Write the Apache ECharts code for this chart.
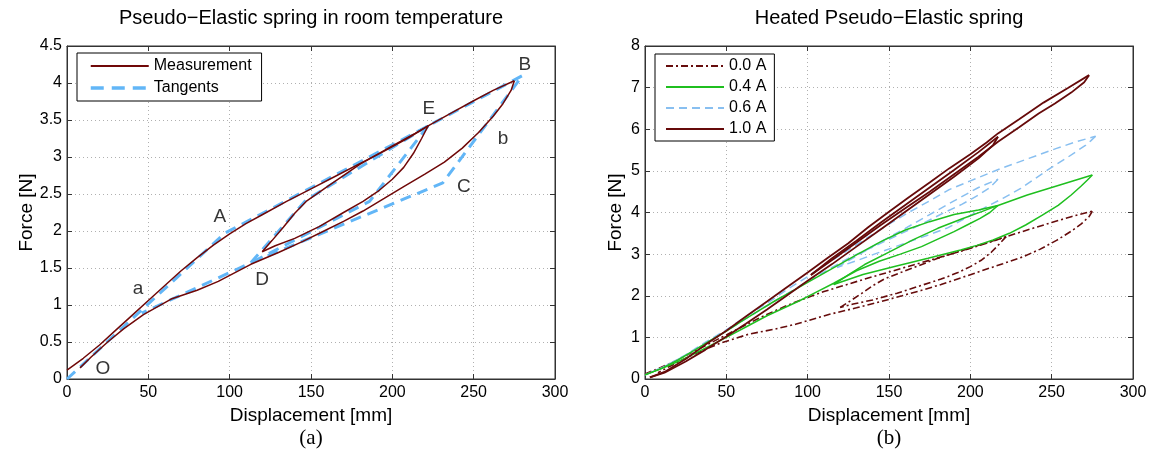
<!DOCTYPE html>
<html>
<head>
<meta charset="utf-8">
<script src="https://cdn.jsdelivr.net/npm/echarts@6/dist/echarts.min.js"></script>
<style>
html,body{margin:0;padding:0;background:#fff;}
#c{width:1164px;height:460px;}
</style>
</head>
<body>
<div id="c"></div>
<script>
// ---------- axis ticks ----------
const xTicks = [0, 50, 100, 150, 200, 250, 300];
const yTicksLeft = [0, 0.5, 1, 1.5, 2, 2.5, 3, 3.5, 4, 4.5];
const yTicksRight = [0, 1, 2, 3, 4, 5, 6, 7, 8];

// ---------- (a) measurement (room temperature) ----------
const measLoad = [[0,0.12],[10,0.28],[20,0.46],[30,0.66],[40,0.86],[50,1.06],[60,1.26],[70,1.46],[80,1.64],[90,1.81],[100,1.96],[110,2.1],[120,2.22],[135,2.4],[150,2.57],[165,2.74],[180,2.91],[195,3.08],[210,3.26],[222,3.42],[235,3.58],[250,3.76],[262,3.9],[275,4.03]];
const measUnloadMain = [[275,4.03],[273,3.9],[268,3.72],[262,3.55],[253,3.33],[243,3.12],[232,2.93],[220,2.77],[207,2.6],[195,2.44],[182,2.27],[170,2.13],[158,2.0],[145,1.86],[130,1.71],[113,1.55],[93,1.32],[80,1.2],[64,1.08],[47,0.87],[35,0.68],[25,0.5],[15,0.3],[8,0.15]];
const measUnloadInner = [[222,3.42],[218,3.25],[213,3.05],[207,2.86],[200,2.7],[192,2.55],[182,2.4],[170,2.25],[155,2.06],[140,1.9],[128,1.8],[120,1.72]];
const measReload = [[120,1.72],[126,1.87],[133,2.05],[140,2.24],[147,2.4],[160,2.6],[180,2.9],[200,3.15],[214,3.32],[222,3.42]];

// tangents
const tanMain = [[0,0],[97,1.97],[222,3.42],[280,4.1],[231,2.65],[113,1.57],[46,0.89]];
const tanInnerUp = [[113,1.57],[147,2.42],[222,3.42]];
const tanInnerDown = [[222,3.42],[186,2.4],[113,1.57]];

// point labels
const pointLabels = [['O',22,0.14],['a',43.6,1.22],['A',94,2.19],['D',120,1.34],['E',222.5,3.65],['B',281.5,4.25],['b',268,3.24],['C',244,2.6]];

// ---------- (b) heated spring ----------
const load04 = [[0,0.1],[10,0.25],[20,0.45],[30,0.68],[40,0.92],[50,1.15],[60,1.4],[70,1.64],[80,1.88],[90,2.1],[100,2.32],[115,2.65],[130,2.98],[145,3.3],[160,3.58],[175,3.78],[190,3.95],[205,4.06],[217,4.17],[235,4.42],[255,4.66],[275,4.9]];
const unloadMain04 = [[275,4.9],[272,4.78],[268,4.63],[262,4.42],[254,4.17],[244,3.93],[234,3.7],[224,3.5],[214,3.34],[204,3.21],[194,3.1],[174,2.9],[154,2.71],[134,2.51],[116,2.27]];
const reload04 = [[116,2.27],[125,2.5],[135,2.75],[150,3.05],[165,3.35],[180,3.62],[195,3.85],[207,4.02],[217,4.17]];
const unloadInner04 = [[217,4.17],[212,4.0],[206,3.86],[198,3.7],[190,3.54],[180,3.36],[170,3.18],[157,3.0],[144,2.83],[130,2.6],[116,2.3],[105,2.08],[95,1.88],[85,1.7],[75,1.52],[62,1.25],[50,1.0],[38,0.76],[25,0.5],[12,0.28],[0,0.1]];

const load06 = [[0,0.1],[12,0.3],[25,0.58],[37,0.88],[50,1.18],[62,1.5],[75,1.82],[87,2.14],[100,2.46],[112,2.78],[125,3.1],[137,3.4],[150,3.72],[162,4.0],[175,4.28],[187,4.55],[200,4.76],[219,5.06],[236,5.3],[253,5.54],[265,5.7],[277,5.83]];
const unloadMain06 = [[277,5.83],[274,5.72],[271,5.62],[260,5.33],[249,5.06],[240,4.82],[231,4.58],[220,4.34],[208,4.1],[197,3.86],[186,3.63],[175,3.47],[163,3.31],[152,3.15],[141,3.0],[130,2.84],[118,2.68]];
const reload06 = [[118,2.68],[130,2.95],[145,3.3],[160,3.62],[175,3.95],[190,4.28],[205,4.6],[217,4.8]];
const unloadInner06 = [[217,4.8],[212,4.6],[205,4.42],[195,4.2],[183,3.98],[170,3.72],[155,3.45],[140,3.17],[125,2.9],[115,2.68],[100,2.35],[88,2.06],[75,1.76],[62,1.45],[50,1.15],[37,0.85],[25,0.57],[12,0.3],[0,0.1]];

const load10 = [[3,0.04],[12,0.17],[25,0.48],[37,0.82],[50,1.16],[62,1.5],[75,1.86],[87,2.2],[100,2.56],[112,2.9],[125,3.26],[137,3.64],[150,4.02],[162,4.36],[175,4.72],[187,5.06],[200,5.4],[210,5.68],[217,5.9],[230,6.24],[245,6.64],[260,6.99],[273,7.3]];
const unloadMain10 = [[273,7.3],[270,7.13],[262,6.88],[252,6.62],[242,6.38],[230,6.05],[217,5.7],[205,5.34],[190,4.92],[175,4.5],[160,4.1],[145,3.7],[130,3.28],[115,2.86],[102,2.5]];
const reload10 = [[102,2.5],[115,2.9],[130,3.32],[145,3.76],[160,4.18],[175,4.6],[190,5.02],[205,5.45],[217,5.82]];
const unloadInner10 = [[217,5.82],[214,5.62],[205,5.3],[190,4.86],[175,4.44],[160,4.02],[145,3.6],[130,3.18],[115,2.76],[100,2.36],[87,2.0],[75,1.67],[62,1.33],[50,1.02],[37,0.7],[25,0.42],[12,0.15],[3,0.04]];

// ---------- styling ----------
const FONT = 'Liberation Sans, Arial, sans-serif';
const C_MEAS = '#700808';
const C_TAN = '#62b6f7';
const C_00 = '#660c0c';
const C_04 = '#1fbf1f';
const C_06 = '#88bff0';
const C_10 = '#660a0a';

function ln(name, data, gi, color, width, type, z) {
  return {
    type: 'line', name: name, data: data,
    xAxisIndex: gi, yAxisIndex: gi,
    symbol: 'none', showSymbol: false, smooth: false,
    lineStyle: { color: color, width: width, type: type },
    itemStyle: { color: color },
    emphasis: { disabled: true }, silent: true,
    z: z || 2, animation: false
  };
}

function xAx(gi, pos, show) {
  return {
    type: 'value', gridIndex: gi, position: pos,
    min: xTicks[0], max: xTicks[xTicks.length - 1], interval: 50,
    axisLine: { show: true, onZero: false, lineStyle: { color: '#333', width: 1 } },
    axisTick: { show: true, inside: true, length: 5, lineStyle: { color: '#333' } },
    axisLabel: { show: show, color: '#000', fontSize: 16, fontFamily: FONT, margin: 6 },
    splitLine: { show: show, lineStyle: { color: '#b0b0b0', type: [1, 3], width: 1 } },
    name: show ? 'Displacement [mm]' : '', nameLocation: 'middle', nameGap: 17,
    nameTextStyle: { color: '#000', fontSize: 19, fontFamily: FONT }
  };
}
function yAx(gi, pos, show, ticks) {
  return {
    type: 'value', gridIndex: gi, position: pos,
    min: ticks[0], max: ticks[ticks.length - 1], interval: ticks[1] - ticks[0],
    axisLine: { show: true, onZero: false, lineStyle: { color: '#333', width: 1 } },
    axisTick: { show: true, inside: true, length: 5, lineStyle: { color: '#333' } },
    axisLabel: { show: show, color: '#000', fontSize: 16, fontFamily: FONT, margin: 5 },
    splitLine: { show: show, lineStyle: { color: '#b0b0b0', type: [1, 3], width: 1 } },
    name: show ? 'Force [N]' : '', nameLocation: 'middle', nameGap: gi === 0 ? 29 : 20,
    nameTextStyle: { color: '#000', fontSize: 19, fontFamily: FONT }
  };
}

const series = [];
// (a)
[measLoad, measUnloadMain, measUnloadInner, measReload].forEach(d => series.push(ln('Measurement', d, 0, C_MEAS, 1.5, 'solid', 3)));
[tanMain, tanInnerUp, tanInnerDown].forEach(d => series.push(ln('Tangents', d, 0, C_TAN, 3, [11, 7], 2)));
series.push({
  type: 'scatter', xAxisIndex: 0, yAxisIndex: 0, silent: true, animation: false,
  symbolSize: 1, itemStyle: { color: 'rgba(0,0,0,0)' },
  data: pointLabels.map(p => ({ name: p[0], value: [p[1], p[2]] })),
  label: { show: true, position: 'inside', formatter: p => p.name, color: '#000', fontSize: 19, fontFamily: FONT },
  z: 5
});
// (b)
[measLoad, measUnloadMain, measUnloadInner, measReload].forEach(d => series.push(ln('0.0 A', d, 1, C_00, 1.6, [7, 3, 2, 3], 2)));
[load06, unloadMain06, reload06, unloadInner06].forEach(d => series.push(ln('0.6 A', d, 1, C_06, 1.5, [8, 5], 3)));
[load04, unloadMain04, reload04, unloadInner04].forEach(d => series.push(ln('0.4 A', d, 1, C_04, 1.5, 'solid', 4)));
[load10, unloadMain10, reload10, unloadInner10].forEach(d => series.push(ln('1.0 A', d, 1, C_10, 1.8, 'solid', 5)));

const legendCommon = {
  orient: 'vertical', backgroundColor: '#fff', borderColor: '#000', borderWidth: 1,
  itemWidth: 58, itemHeight: 14, selectedMode: false,
  itemStyle: { opacity: 0 },
  textStyle: { color: '#000', fontSize: 16, fontFamily: FONT }
};

const chart = echarts.init(document.getElementById('c'), null, { renderer: 'canvas' });
chart.setOption({
  backgroundColor: '#fff',
  animation: false,
  grid: [
    { left: 67, right: 1164 - 555, top: 46, bottom: 460 - 379, show: true, borderColor: '#333', borderWidth: 1, backgroundColor: '#fff' },
    { left: 645, right: 1164 - 1133, top: 46, bottom: 460 - 379, show: true, borderColor: '#333', borderWidth: 1, backgroundColor: '#fff' }
  ],
  xAxis: [xAx(0, 'bottom', true), xAx(1, 'bottom', true), xAx(0, 'top', false), xAx(1, 'top', false)],
  yAxis: [yAx(0, 'left', true, yTicksLeft), yAx(1, 'left', true, yTicksRight), yAx(0, 'right', false, yTicksLeft), yAx(1, 'right', false, yTicksRight)],
  legend: [
    Object.assign({}, legendCommon, {
      data: ['Measurement', { name: 'Tangents', lineStyle: { width: 3.5, type: [13, 8] } }], left: 77, top: 53,
      padding: [5, 10, 5, 12], itemGap: 6
    }),
    Object.assign({}, legendCommon, {
      data: ['0.0 A', '0.4 A', '0.6 A', '1.0 A'], left: 655, top: 54,
      padding: [4, 8, 4, 10], itemGap: 5
    })
  ],
  graphic: [
    { type: 'text', x: 311, y: 18, style: { text: 'Pseudo\u2212Elastic spring in room temperature', fill: '#000', font: '20px ' + FONT, textAlign: 'center', textVerticalAlign: 'middle' } },
    { type: 'text', x: 889, y: 18, style: { text: 'Heated Pseudo\u2212Elastic spring', fill: '#000', font: '20px ' + FONT, textAlign: 'center', textVerticalAlign: 'middle' } },
    { type: 'text', x: 311, y: 438, style: { text: '(a)', fill: '#000', font: '21px Liberation Serif, Times New Roman, serif', textAlign: 'center', textVerticalAlign: 'middle' } },
    { type: 'text', x: 889, y: 438, style: { text: '(b)', fill: '#000', font: '21px Liberation Serif, Times New Roman, serif', textAlign: 'center', textVerticalAlign: 'middle' } }
  ],
  series: series
});
</script>
</body>
</html>
